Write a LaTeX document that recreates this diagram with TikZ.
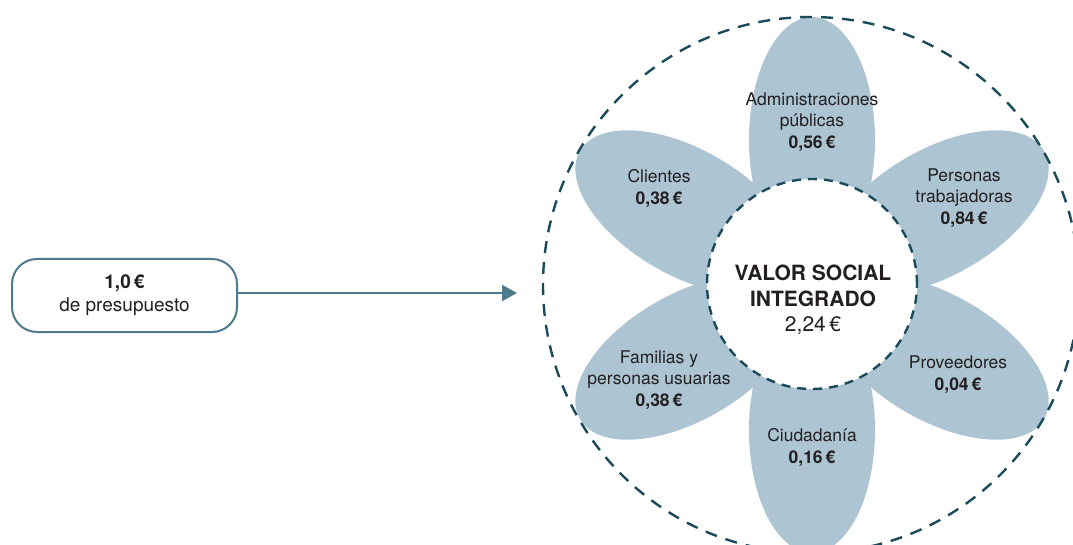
\documentclass[tikz,border=0pt]{standalone}
\usepackage{fontspec}
\setmainfont{TeX Gyre Heros}
\usetikzlibrary{arrows.meta}
\definecolor{petalc}{HTML}{ADC5D3}
\definecolor{dashc}{HTML}{1B4B5B}
\definecolor{boxc}{HTML}{4F7A8B}
\definecolor{txt}{HTML}{231F20}
\begin{document}
\begin{tikzpicture}[x=1pt,y=-1pt,
  petal/.style={fill=petalc},
  ring/.style={circle, draw=dashc, line width=2.4pt, dash pattern=on 12pt off 9pt, inner sep=0pt},
  corering/.style={circle, draw=dashc, fill=white, line width=2.4pt, dash pattern=on 9pt off 7pt, inner sep=0pt},
  lbl/.style={align=center, text=txt, font=\fontsize{17.5}{21.5}\selectfont, inner sep=0pt},
  centerlbl/.style={align=center, text=txt, font=\fontsize{21}{25.5}\selectfont, inner sep=0pt},
  budget/.style={draw=boxc, line width=2pt, rounded corners=25pt, minimum width=225pt, minimum height=73pt, align=center, text=txt, font=\fontsize{19}{23}\selectfont},
  flow/.style={draw=boxc, line width=2.2pt, -{Triangle[length=15pt,width=16pt]}}
]
\useasboundingbox (0,0) rectangle (1073,545);
\clip (0,0) rectangle (1073,545);
\coordinate (C) at (812,285);
\foreach \a in {0,60,...,300}
  \fill[petal, rotate around={\a:(C)}] (812,140) ellipse [x radius=63, y radius=123];
\node[ring, minimum size=536pt] (outer) at (811,285) {};
\node[corering, minimum size=210pt] (core) at (812,284) {};
\node[centerlbl] (vsi) at (813,300) {\textbf{VALOR SOCIAL}\\\textbf{INTEGRADO}\\2,24\,€};
\node[lbl] (adm) at (812,122) {Administraciones\\públicas\\\textbf{0,56\,€}};
\node[lbl] (cli) at (659,188.5) {Clientes\\\textbf{0,38\,€}};
\node[lbl] (per) at (964,198) {Personas\\trabajadoras\\\textbf{0,84\,€}};
\node[lbl] (fam) at (659,380) {Familias y\\personas usuarias\\\textbf{0,38\,€}};
\node[lbl] (pro) at (958,374.5) {Proveedores\\\textbf{0,04\,€}};
\node[lbl] (ciu) at (812,447.5) {Ciudadanía\\\textbf{0,16\,€}};
\node[budget] (box) at (124.5,295.5) {\textbf{1,0\,€}\\de presupuesto};
\coordinate (tip) at (517,293);
\draw[flow] (box.east |- tip) -- (tip);
\end{tikzpicture}
\end{document}
